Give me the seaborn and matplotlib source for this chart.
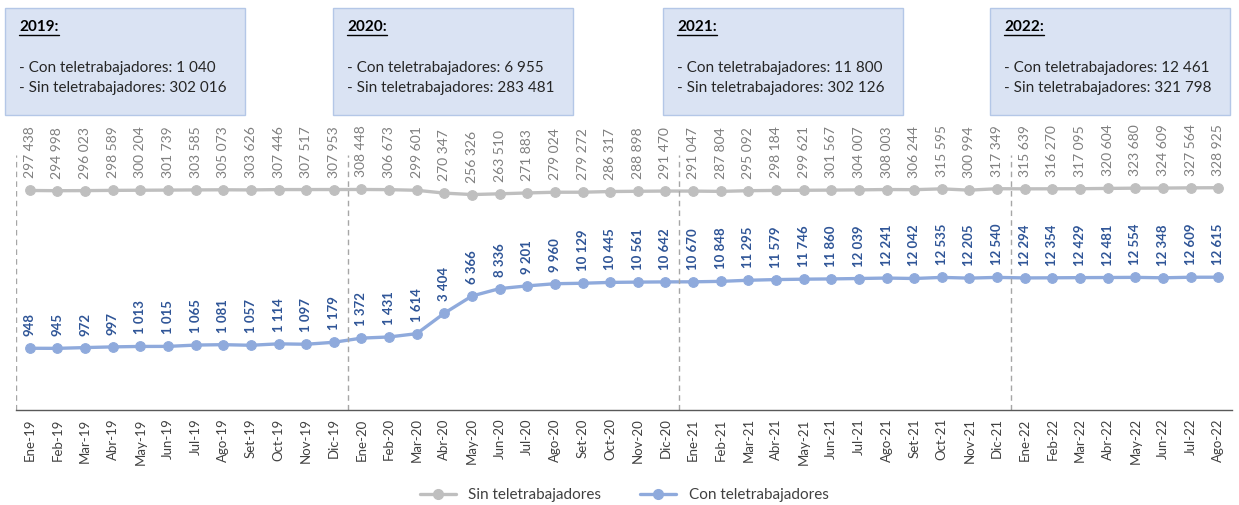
import pandas as pd
import numpy as np
import matplotlib.pyplot as plt
import seaborn as sns
from matplotlib.patches import Rectangle
from matplotlib.lines import Line2D

# Data
months = ['Ene', 'Feb', 'Mar', 'Abr', 'May', 'Jun', 'Jul', 'Ago', 'Set', 'Oct', 'Nov', 'Dic']
periods = [f'{m}-{y}' for y in ['19', '20', '21'] for m in months] + [f'{m}-22' for m in months[:8]]

sin_tele = [297438, 294998, 296023, 298589, 300204, 301739, 303585, 305073, 303626, 307446, 307517, 307953,
            308448, 306673, 299601, 270347, 256326, 263510, 271883, 279024, 279272, 286317, 288898, 291470,
            291047, 287804, 295092, 298184, 299621, 301567, 304007, 308003, 306244, 315595, 300994, 317349,
            315639, 316270, 317095, 320604, 323680, 324609, 327564, 328925]

con_tele = [948, 945, 972, 997, 1013, 1015, 1065, 1081, 1057, 1114, 1097, 1179,
            1372, 1431, 1614, 3404, 6366, 8336, 9201, 9960, 10129, 10445, 10561, 10642,
            10670, 10848, 11295, 11579, 11746, 11860, 12039, 12241, 12042, 12535, 12205, 12540,
            12294, 12354, 12429, 12481, 12554, 12348, 12609, 12615]

year_labels = ['2019:', '2020:', '2021:', '2022:']
year_con = [1040, 6955, 11800, 12461]
year_sin = [302016, 283481, 302126, 321798]

GREY = '#BFBFBF'
BLUE = '#8FAADC'
BLUE_TXT = '#2F5597'
GREY_TXT = '#7F7F7F'


def fmt(v):
    return f'{v:,}'.replace(',', ' ')


df = pd.DataFrame({'pos': np.arange(len(periods)), 'periodo': periods,
                   'sin': sin_tele, 'con': con_tele})

sns.set_style('white')
plt.rcParams['font.family'] = ['Lato', 'DejaVu Sans']

W, H = 1239, 505
fig = plt.figure(figsize=(W / 100, H / 100), dpi=100)
ax = fig.add_axes([16 / W, 95 / H, 1216 / W, 316 / H])

# both series share one logarithmic axis (100 .. 10 000 000)
sns.lineplot(data=df, x='pos', y='sin', ax=ax, color=GREY, linewidth=2.4,
             marker='o', markersize=7, markeredgecolor=GREY)
sns.lineplot(data=df, x='pos', y='con', ax=ax, color=BLUE, linewidth=2.4,
             marker='o', markersize=7, markeredgecolor=BLUE)

ax.set_yscale('log')
ax.set_ylim(100, 1e7)
ax.set_xlim(-0.5, len(periods) - 0.5)

ax.set_ylabel('')
ax.set_xlabel('')
ax.set_yticks([])
ax.minorticks_off()
for s in ['top', 'left', 'right']:
    ax.spines[s].set_visible(False)
ax.spines['bottom'].set_color('#595959')
ax.spines['bottom'].set_linewidth(1.0)

ax.set_xticks(df['pos'])
ax.set_xticklabels(periods, rotation=90, fontsize=9.5, color='#404040')
ax.tick_params(axis='x', which='major', length=0, pad=6)
ax.set_xticks(np.arange(-0.5, len(periods), 1), minor=True)
ax.tick_params(axis='x', which='minor', length=4, color='#595959', direction='out')

# dashed year separators
for b in [-0.5, 11.5, 23.5, 35.5]:
    ax.axvline(b, ymin=0, ymax=0.807, color='#A6A6A6', linestyle=(0, (4, 3)), linewidth=1)

# data labels
for i, v in enumerate(sin_tele):
    ax.annotate(fmt(v), (i, v), xytext=(0, 12), textcoords='offset pixels',
                rotation=90, ha='center', va='bottom', fontsize=10, color=GREY_TXT)
for i, v in enumerate(con_tele):
    ax.annotate(fmt(v), (i, v), xytext=(0, 12), textcoords='offset pixels',
                rotation=90, ha='center', va='bottom', fontsize=9.5, color=BLUE_TXT,
                fontweight='bold')

# yearly summary boxes
box_x = [5, 333, 663, 990]
for x0, lab, c, s in zip(box_x, year_labels, year_con, year_sin):
    fig.patches.append(Rectangle((x0 / W, 1 - 115 / H), 240 / W, 107 / H,
                                 transform=fig.transFigure, facecolor='#DAE3F3',
                                 edgecolor='#B4C7E7', linewidth=1))
    fig.text((x0 + 14) / W, 1 - 27 / H, lab, fontsize=11, fontweight='bold',
             color='black', va='center', ha='left')
    fig.text((x0 + 14) / W, 1 - 68 / H, f'- Con teletrabajadores: {fmt(c)}',
             fontsize=11, color='#262626', va='center', ha='left')
    fig.text((x0 + 14) / W, 1 - 88 / H, f'- Sin teletrabajadores: {fmt(s)}',
             fontsize=11, color='#262626', va='center', ha='left')
    # underline of the year
    fig.add_artist(Line2D([(x0 + 14) / W, (x0 + 54) / W], [1 - 35 / H, 1 - 35 / H],
                          color='black', linewidth=1, transform=fig.transFigure))

handles = [Line2D([], [], color=GREY, linewidth=2.4, marker='o', markersize=7),
           Line2D([], [], color=BLUE, linewidth=2.4, marker='o', markersize=7)]
fig.legend(handles, ['Sin teletrabajadores', 'Con teletrabajadores'], loc='center',
           bbox_to_anchor=(624 / W, 1 - 495 / H), ncol=2, frameon=False,
           fontsize=11, labelcolor='#404040', handlelength=2.4, columnspacing=2.5)

fig.savefig('out.png', dpi=100)
